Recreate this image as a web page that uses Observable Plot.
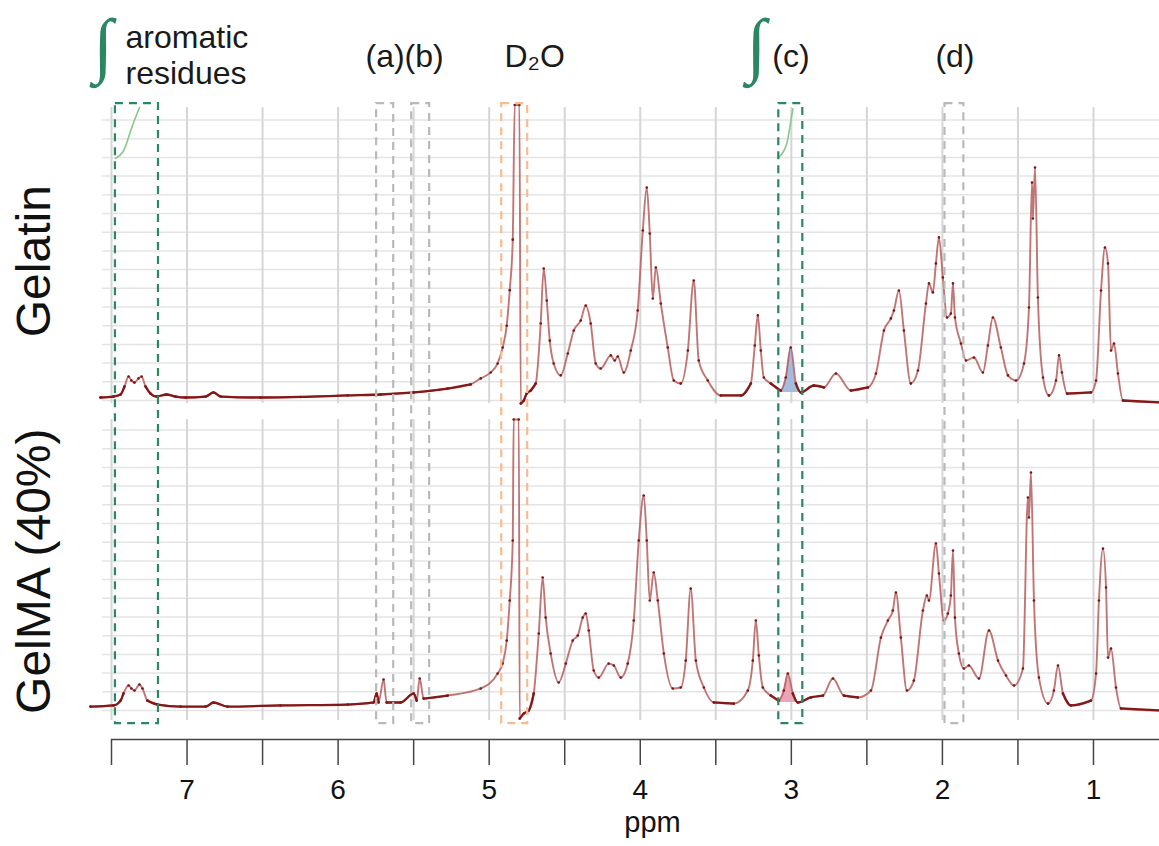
<!DOCTYPE html>
<html>
<head>
<meta charset="utf-8">
<script src="https://cdn.jsdelivr.net/npm/d3@7"></script>
<script src="https://cdn.jsdelivr.net/npm/@observablehq/plot@0.6"></script>
<style>
  html, body { margin: 0; padding: 0; background: #fff; }
  #chart svg { font-family: "Liberation Sans", Arial, Helvetica, sans-serif; display: block; }
</style>
</head>
<body>
<div id="chart"></div>
<script>
// ---------- data (chemical shift in ppm, intensity in gridline units above the panel baseline) ----------
const panelNames = ["Gelatin", "GelMA (40%)"];

const gelatin = [
  [7.573,0.16],[7.487,0.21],[7.44,0.32],[7.414,0.75],[7.387,1.28],[7.368,1.07],[7.348,0.96],[7.321,1.18],[7.301,1.28],
  [7.275,0.75],[7.242,0.37],[7.202,0.21],[7.136,0.32],[7.076,0.21],[7.01,0.16],[6.877,0.21],[6.825,0.43],[6.778,0.21],
  [6.513,0.16],[6.248,0.19],[5.937,0.27],[5.719,0.32],[5.5,0.43],[5.275,0.64],[5.123,0.86],[5.056,1.18],[4.99,1.5],
  [4.944,1.98],[4.911,2.83],[4.884,4.0],[4.864,5.9],[4.844,8.6],[4.831,15.8],[4.8,15.8],[4.791,-0.16],[4.771,0],
  [4.752,0.37],[4.725,0.53],[4.692,0.91],[4.659,4.12],[4.639,7.06],[4.619,5.35],[4.599,3.2],[4.573,1.98],[4.526,1.34],
  [4.48,2.51],[4.44,3.74],[4.394,4.28],[4.361,5.08],[4.328,4.12],[4.295,1.98],[4.262,1.71],[4.195,2.41],[4.169,2.14],
  [4.149,2.35],[4.109,1.5],[4.063,2.67],[4.017,4.81],[3.983,9.09],[3.957,11.39],[3.937,8.93],[3.917,5.45],[3.897,7.11],
  [3.864,5.19],[3.818,2.83],[3.778,1.07],[3.732,0.91],[3.685,2.67],[3.646,6.42],[3.613,2.14],[3.553,1.07],[3.467,0.27],
  [3.334,0.27],[3.268,0.91],[3.242,2.94],[3.222,4.55],[3.202,2.67],[3.182,1.23],[3.136,0.91],[3.07,0.53],[3.037,1.23],
  [3.004,2.83],[2.97,0.91],[2.937,0.43],[2.851,0.8],[2.785,0.7],[2.705,1.44],[2.606,0.53],[2.493,0.7],[2.44,1.44],
  [2.387,3.74],[2.341,4.39],[2.321,4.81],[2.288,5.88],[2.255,3.74],[2.209,0.91],[2.162,1.6],[2.109,5.19],[2.089,6.26],
  [2.063,5.78],[2.043,7.33],[2.023,8.72],[1.997,6.58],[1.97,4.44],[1.944,4.65],[1.93,6.26],[1.917,4.44],[1.877,3.05],
  [1.844,2.14],[1.791,2.3],[1.732,1.5],[1.699,2.94],[1.666,4.44],[1.613,2.83],[1.566,1.34],[1.513,1.07],[1.46,1.98],
  [1.427,4.97],[1.407,11.66],[1.401,9.73],[1.387,12.46],[1.368,5.51],[1.334,1.23],[1.295,0.27],[1.248,1.07],[1.228,2.41],
  [1.209,1.5],[1.175,0.37],[1.017,0.43],[0.983,1.07],[0.95,5.88],[0.924,8.18],[0.904,7.33],[0.884,2.67],[0.864,3.05],
  [0.838,1.44],[0.805,0],[0.56,-0.1]
];

const gelma = [
  [7.639,0.21],[7.487,0.27],[7.44,0.53],[7.421,0.91],[7.387,1.34],[7.368,1.18],[7.348,1.07],[7.315,1.39],[7.295,1.18],
  [7.262,0.53],[7.195,0.32],[7.043,0.21],[6.877,0.21],[6.825,0.43],[6.732,0.21],[6.381,0.27],[5.937,0.32],[5.765,0.43],
  [5.745,0.91],[5.732,0.43],[5.699,1.66],[5.679,0.43],[5.586,0.43],[5.5,0.91],[5.48,0.53],[5.46,1.71],[5.434,0.64],
  [5.275,0.8],[5.056,1.18],[4.944,1.98],[4.911,2.51],[4.884,3.74],[4.864,5.88],[4.844,9.09],[4.838,15.56],[4.804,15.56],
  [4.798,-0.43],[4.771,-0.16],[4.738,0],[4.705,0.91],[4.672,4.12],[4.646,7.11],[4.626,4.97],[4.593,3.05],[4.54,1.5],
  [4.493,2.51],[4.447,3.74],[4.414,4.01],[4.381,4.97],[4.361,5.19],[4.341,4.28],[4.308,2.14],[4.275,1.76],[4.209,2.51],
  [4.175,2.41],[4.129,1.76],[4.083,2.51],[4.043,4.81],[4.01,9.09],[3.977,11.5],[3.957,9.09],[3.937,5.88],[3.911,7.38],
  [3.884,5.88],[3.844,3.05],[3.785,1.18],[3.732,1.23],[3.699,2.67],[3.666,6.52],[3.632,2.67],[3.579,1.23],[3.513,0.43],
  [3.381,0.37],[3.288,1.07],[3.255,2.67],[3.235,4.81],[3.215,2.94],[3.189,1.23],[3.136,0.8],[3.083,0.53],[3.05,1.07],
  [3.023,1.98],[2.99,0.91],[2.957,0.43],[2.871,0.7],[2.791,0.8],[2.725,1.71],[2.652,0.8],[2.56,0.7],[2.473,1.07],
  [2.407,3.9],[2.361,4.81],[2.328,5.35],[2.308,6.31],[2.275,3.9],[2.235,1.07],[2.189,1.6],[2.129,5.35],[2.103,6.15],
  [2.089,5.88],[2.043,8.93],[2.023,7.33],[1.99,4.81],[1.964,5.19],[1.944,6.15],[1.93,8.56],[1.917,4.97],[1.891,3.05],
  [1.858,2.25],[1.825,2.41],[1.758,1.71],[1.692,4.28],[1.632,2.67],[1.579,1.87],[1.526,1.34],[1.467,2.25],[1.434,11.39],
  [1.427,10.32],[1.414,12.73],[1.394,5.88],[1.361,1.76],[1.301,0.37],[1.262,1.07],[1.235,2.41],[1.202,0.91],[1.149,0.27],
  [1.017,0.53],[0.983,1.98],[0.964,5.88],[0.937,8.66],[0.917,6.58],[0.904,2.83],[0.884,3.32],[0.851,1.23],[0.818,0.11],
  [0.56,0]
];

// running integral traces (Gelatin panel)
const aromaticIntegral = [[7.474,12.94],[7.427,13.26],[7.394,13.9],[7.361,14.71],[7.328,15.4],[7.315,15.67]];
const peakCIntegral = [[3.083,13.0],[3.056,13.26],[3.03,13.74],[3.01,14.6],[2.99,15.6]];

// integrated peak (c) range, ppm
const peakCRange = {Gelatin: [2.93, 3.075], "GelMA (40%)": [2.955, 3.085]};

// highlighted regions, ppm
const regions = [
  {id: "aromatic residues", from: 7.474, to: 7.189, kind: "integral"},
  {id: "(a)", from: 5.745, to: 5.632, kind: "methacryl"},
  {id: "(b)", from: 5.513, to: 5.394, kind: "methacryl"},
  {id: "D2O", from: 4.917, to: 4.745, kind: "solvent"},
  {id: "(c)", from: 3.083, to: 2.924, kind: "integral"},
  {id: "(d)", from: 1.983, to: 1.858, kind: "methacryl"}
];

const xTicks = [7.5, 7, 6.5, 6, 5.5, 5, 4.5, 4, 3.5, 3, 2.5, 2, 1.5, 1];
const xTickLabels = [7, 6, 5, 4, 3, 2, 1];
const gridSteps = d3.range(0, 16);

// ---------- layout ----------
const W = 1159, H = 846;
const panelOffset = {"Gelatin": 16.58, "GelMA (40%)": 0};
const yDomain = [-1.55, 37.97];
const xDomain = [7.5, 0.563];
const colors = {integral: "#2b8762", methacryl: "#b9b9b9", solvent: "#f6bb8f"};
const areaFill = {"Gelatin": "#9fb8db", "GelMA (40%)": "#e7a1b2"};

const spec = [
  ...gelatin.map(([ppm, v]) => ({panel: "Gelatin", ppm, v, y: v + panelOffset["Gelatin"]})),
  ...gelma.map(([ppm, v]) => ({panel: "GelMA (40%)", ppm, v, y: v + panelOffset["GelMA (40%)"]}))
];

const hGrid = panelNames.flatMap(p => gridSteps.map(s => ({panel: p, y: s + panelOffset[p]})));
const vGridSpan = {"Gelatin": [16.42, 32.25], "GelMA (40%)": [-0.53, 15.56]};
const vGrid = panelNames.flatMap(p => xTicks.map(x => ({panel: p, x, y1: vGridSpan[p][0], y2: vGridSpan[p][1]})));

const boxY = [-0.7, 32.46];

const integ = [
  ...aromaticIntegral.map(([ppm, v]) => ({g: "arom", ppm, y: v + panelOffset["Gelatin"]})),
  ...peakCIntegral.map(([ppm, v]) => ({g: "c", ppm, y: v + panelOffset["Gelatin"]}))
];

const annotations = [
  {text: "aromatic", ppm: 7.407, y: 35.99, anchor: "start"},
  {text: "residues", ppm: 7.407, y: 34.06, anchor: "start"},
  {text: "(a)(b)", ppm: 5.56, y: 34.97, anchor: "middle"},
  {text: "D\u2082O", ppm: 4.699, y: 34.97, anchor: "middle"},
  {text: "(c)", ppm: 3.003, y: 34.97, anchor: "middle"},
  {text: "(d)", ppm: 1.917, y: 34.97, anchor: "middle"}
];
const integralSigns = [{ppm: 7.555, y: 35.55}, {ppm: 3.232, y: 35.55}];

const marks = [
  // grid
  Plot.ruleY(hGrid, {y: "y", x1: 7.56, x2: xDomain[1], stroke: "#e4e4e4", strokeWidth: 1.5}),
  Plot.ruleX(vGrid, {x: "x", y1: "y1", y2: "y2", stroke: "#d6d6d6", strokeWidth: 2}),
  // integrated areas for peak (c)
  ...panelNames.map(p => Plot.areaY(
    spec.filter(d => d.panel === p && d.ppm >= peakCRange[p][0] && d.ppm <= peakCRange[p][1]),
    {x: "ppm", y1: 0.43 + panelOffset[p], y2: "y", fill: areaFill[p], fillOpacity: 0.95, curve: "monotone-x"}
  )),
  // spectra
  Plot.line(spec, {x: "ppm", y: "y", z: "panel", stroke: "#b65d5d", strokeWidth: 1.9, strokeOpacity: 0.85, curve: "monotone-x"}),
  Plot.line(spec, {x: "ppm", y: d => (d.v < 1.0 ? d.y : NaN), z: "panel", stroke: "#861818", strokeWidth: 2.3, curve: "monotone-x"}),
  Plot.dot(spec, {x: "ppm", y: "y", r: 1.3, fill: "#7e1414", stroke: null}),
  // integral traces
  Plot.line(integ, {x: "ppm", y: "y", z: "g", stroke: "#86c986", strokeWidth: 1.6, curve: "natural"}),
  // dashed region boxes
  ...Object.keys(colors).map(k => Plot.rect(regions.filter(r => r.kind === k), {
    x1: "from", x2: "to", y1: boxY[0], y2: boxY[1],
    fill: "none", stroke: colors[k], strokeWidth: 2.2, strokeDasharray: "8,6"
  })),
  // x axis
  Plot.ruleY([yDomain[0]], {stroke: "#444", strokeWidth: 1.6}),
  Plot.axisX(xTicks, {
    tickSize: 26, tickPadding: 14, stroke: "#444", strokeWidth: 1.5,
    tickFormat: d => (xTickLabels.includes(d) ? String(d) : ""),
    fontSize: 28, fill: "#111", label: null
  }),
  Plot.text(["ppm"], {frameAnchor: "bottom", dx: 17, dy: 92, fontSize: 29, fill: "#111"}),
  // panel labels
  Plot.text(panelNames, {
    frameAnchor: "left", dx: -77, y: d => panelOffset[d] + 7.45,
    rotate: -90, textAnchor: "middle", fontSize: 48, fill: "#111", text: d => d
  }),
  // annotations
  Plot.text(annotations, {x: "ppm", y: "y", text: "text", textAnchor: "start", filter: d => d.anchor === "start", fontSize: 32, fill: "#1a1a1a"}),
  Plot.text(annotations, {x: "ppm", y: "y", text: "text", textAnchor: "middle", filter: d => d.anchor === "middle", fontSize: 32, fill: "#1a1a1a"}),
  Plot.text(integralSigns, {x: "ppm", y: "y", text: () => "\u222B", fontSize: 72, fontFamily: "'Liberation Serif', 'DejaVu Serif', serif", fill: "#2b8762"})
];

const chart = Plot.plot({
  width: W,
  height: H,
  marginLeft: 111,
  marginRight: 0,
  marginTop: 0,
  marginBottom: H - 739,
  x: {domain: xDomain},
  y: {domain: yDomain, axis: null},
  style: {background: "#fff", fontFamily: "'Liberation Sans', Arial, sans-serif", overflow: "visible"},
  marks
});
document.getElementById("chart").append(chart);
</script>
</body>
</html>
